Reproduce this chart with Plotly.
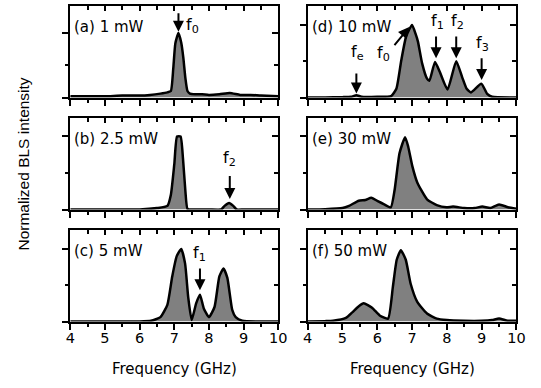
import plotly.graph_objects as go

# ---------------- data ----------------
freq_a = [4.0, 4.5, 5.0, 5.5, 6.0, 6.3, 6.6, 6.8, 6.9, 6.97, 7.03, 7.12, 7.2, 7.26, 7.32, 7.38, 7.45, 7.6, 7.8, 8.0, 8.3, 8.6, 8.9, 9.2, 9.5, 10.0]
int_a = [0.02, 0.02, 0.02, 0.03, 0.03, 0.04, 0.06, 0.08, 0.1, 0.45, 0.84, 1.0, 0.85, 0.62, 0.3, 0.1, 0.06, 0.05, 0.05, 0.04, 0.05, 0.07, 0.04, 0.04, 0.03, 0.02]

freq_b = [4.0, 5.0, 6.0, 6.5, 6.8, 6.9, 7.0, 7.08, 7.18, 7.25, 7.32, 7.38, 7.5, 8.0, 8.35, 8.45, 8.58, 8.7, 8.8, 9.0, 10.0]
int_b = [0.0, 0.0, 0.0, 0.02, 0.05, 0.2, 0.62, 1.0, 1.0, 0.7, 0.25, 0.01, 0.0, 0.0, 0.0, 0.05, 0.09, 0.05, 0.0, 0.0, 0.0]

freq_c = [4.0, 5.0, 6.0, 6.33, 6.6, 6.8, 6.94, 7.07, 7.2, 7.31, 7.4, 7.5, 7.63, 7.74, 7.85, 8.0, 8.16, 8.3, 8.42, 8.53, 8.67, 8.77, 8.96, 10.0]
int_c = [0.0, 0.0, 0.0, 0.01, 0.06, 0.23, 0.62, 0.9, 1.0, 0.8, 0.34, 0.02, 0.25, 0.37, 0.18, 0.06, 0.2, 0.62, 0.73, 0.6, 0.16, 0.06, 0.01, 0.0]

freq_d = [4.0, 4.5, 5.0, 5.25, 5.4, 5.55, 6.0, 6.4, 6.55, 6.69, 6.83, 7.0, 7.1, 7.17, 7.29, 7.43, 7.5, 7.66, 7.8, 8.02, 8.27, 8.44, 8.57, 8.69, 8.99, 9.16, 9.3, 10.0]
int_d = [0.0, 0.0, 0.005, 0.01, 0.03, 0.01, 0.01, 0.02, 0.12, 0.51, 0.84, 1.0, 0.88, 0.77, 0.47, 0.26, 0.23, 0.49, 0.35, 0.11, 0.5, 0.28, 0.12, 0.07, 0.19, 0.05, 0.01, 0.0]

freq_e = [4.0, 4.5, 5.0, 5.19, 5.47, 5.66, 5.83, 6.03, 6.2, 6.39, 6.5, 6.64, 6.8, 6.89, 7.01, 7.15, 7.43, 7.71, 7.99, 8.18, 8.5, 8.8, 9.02, 9.25, 9.5, 9.76, 10.0]
int_e = [0.0, 0.005, 0.02, 0.05, 0.12, 0.13, 0.16, 0.11, 0.07, 0.03, 0.27, 0.77, 0.99, 0.86, 0.59, 0.37, 0.14, 0.06, 0.03, 0.04, 0.02, 0.02, 0.04, 0.02, 0.07, 0.03, 0.01]

freq_f = [4.0, 4.5, 4.73, 5.1, 5.29, 5.47, 5.61, 5.85, 6.08, 6.31, 6.45, 6.56, 6.68, 6.82, 6.96, 7.15, 7.43, 7.71, 8.0, 8.5, 9.0, 9.3, 9.5, 9.75, 10.0]
int_f = [0.0, 0.005, 0.01, 0.05, 0.13, 0.21, 0.25, 0.19, 0.08, 0.04, 0.48, 0.85, 0.98, 0.85, 0.52, 0.27, 0.11, 0.04, 0.02, 0.01, 0.01, 0.02, 0.04, 0.01, 0.01]

panel_labels = ["(a) 1 mW", "(b) 2.5 mW", "(c) 5 mW", "(d) 10 mW", "(e) 30 mW", "(f) 50 mW"]
y_max = [1.42, 1.26, 1.26, 1.26, 1.26, 1.26]
x_ticks = [4, 5, 6, 7, 8, 9, 10]

# peak markers: (panel index, label, label x, label y, arrow tip x, tip y, tail x, tail y, label anchor)
markers = [
    (0, "f<sub>0</sub>", 7.28, 1.12, 7.12, 1.02, 7.12, 1.33, "left"),
    (1, "f<sub>2</sub>", 8.6, 0.70, 8.6, 0.145, 8.6, 0.48, "center"),
    (2, "f<sub>1</sub>", 7.74, 0.93, 7.74, 0.43, 7.74, 0.75, "center"),
    (3, "f<sub>e</sub>", 5.43, 0.62, 5.4, 0.055, 5.4, 0.35, "center"),
    (3, "f<sub>0</sub>", 6.17, 0.6, 6.92, 0.97, 6.46, 0.7, "center"),
    (3, "f<sub>1</sub>", 7.73, 1.05, 7.69, 0.54, 7.69, 0.86, "center"),
    (3, "f<sub>2</sub>", 8.3, 1.05, 8.27, 0.54, 8.27, 0.86, "center"),
    (3, "f<sub>3</sub>", 9.02, 0.75, 9.0, 0.24, 9.0, 0.56, "center"),
]

series = [(freq_a, int_a), (freq_b, int_b), (freq_c, int_c),
          (freq_d, int_d), (freq_e, int_e), (freq_f, int_f)]

# ---------------- layout geometry ----------------
W, H = 541, 388
col_px = [(67, 280.6), (310.7, 525)]
row_px = [(6, 97.5), (117.5, 209.5), (230, 321.5)]
FONT = "DejaVu Sans, sans-serif"
FONT_Y = "Liberation Sans, Arial, sans-serif"
FS = 15
FS_TICK = 14.5

fig = go.Figure()
layout = {}
annotations = []

for i, (fx, fy) in enumerate(series):
    n = i + 1
    col, row = divmod(i, 3)
    x0, x1 = col_px[col]
    y0, y1 = row_px[row]
    xd = [x0 / W, x1 / W]
    yd = [1 - y1 / H, 1 - y0 / H]
    xs = "x" if n == 1 else f"x{n}"
    ys = "y" if n == 1 else f"y{n}"
    fig.add_trace(go.Scatter(
        x=fx, y=fy, xaxis=xs, yaxis=ys, mode="lines",
        line=dict(color="black", width=2.5, shape="spline", smoothing=0.5),
        fill="tozeroy", fillcolor="#808080", hoverinfo="skip", showlegend=False))
    bottom = row == 2
    layout[f"xaxis{n}"] = dict(
        domain=xd, anchor=ys, range=[4, 10], tickvals=x_ticks,
        ticks="outside", ticklen=6, tickwidth=2, tickcolor="black",
        showline=True, linewidth=2, linecolor="black", mirror=True,
        showticklabels=bottom, tickfont=dict(family=FONT, size=FS_TICK, color="black"),
        ticklabelstandoff=-4,
        showgrid=False, zeroline=False,
        minor=dict(dtick=0.5, tick0=0, ticks="outside", ticklen=3, tickwidth=2,
                   tickcolor="black", showgrid=False))
    layout[f"yaxis{n}"] = dict(
        domain=yd, anchor=xs, range=[0, y_max[i]], dtick=1, tick0=0,
        ticks="outside", ticklen=6, tickwidth=2, tickcolor="black",
        showline=True, linewidth=2, linecolor="black", mirror=True,
        showticklabels=False, showgrid=False, zeroline=False,
        minor=dict(dtick=0.5, tick0=0, ticks="outside", ticklen=3, tickwidth=2,
                   tickcolor="black", showgrid=False))
    # overlay axes for inward ticks on top and right
    m = n + 6
    layout[f"xaxis{m}"] = dict(
        overlaying=xs, side="top", anchor=f"y{m}", range=[4, 10], tickvals=x_ticks,
        ticks="inside", ticklen=5, tickwidth=2, tickcolor="black",
        showline=False, showticklabels=False, showgrid=False, zeroline=False,
        minor=dict(dtick=0.5, tick0=0, ticks="inside", ticklen=4, tickwidth=2,
                   tickcolor="black", showgrid=False))
    layout[f"yaxis{m}"] = dict(
        overlaying=ys, side="right", anchor=f"x{m}", range=[0, y_max[i]], dtick=1, tick0=0,
        ticks="inside", ticklen=6, tickwidth=2, tickcolor="black",
        showline=False, showticklabels=False, showgrid=False, zeroline=False,
        minor=dict(dtick=0.5, tick0=0, ticks="inside", ticklen=4, tickwidth=2,
                   tickcolor="black", showgrid=False))
    fig.add_trace(go.Scatter(x=[None], y=[None], xaxis=f"x{m}", yaxis=f"y{m}",
                             mode="lines", showlegend=False, hoverinfo="skip"))
    # panel label
    annotations.append(dict(
        text=panel_labels[i], xref=f"{xs} domain", yref=f"{ys} domain",
        x=0.01, y=1 - 21 / 92, xanchor="left", yanchor="middle", showarrow=False,
        font=dict(family=FONT, size=FS, color="black")))

for (p, txt, lx, ly, tx, ty, ax, ay, anc) in markers:
    n = p + 1
    xs = "x" if n == 1 else f"x{n}"
    ys = "y" if n == 1 else f"y{n}"
    annotations.append(dict(
        x=tx, y=ty, ax=ax, ay=ay, xref=xs, yref=ys, axref=xs, ayref=ys,
        text="", showarrow=True, arrowhead=2, arrowsize=1.1, arrowwidth=2,
        arrowcolor="black", standoff=0, startstandoff=0))
    annotations.append(dict(
        x=lx, y=ly, xref=xs, yref=ys, text=txt, showarrow=False,
        xanchor=anc, yanchor="middle",
        font=dict(family=FONT, size=16, color="black")))

# axis titles
annotations.append(dict(
    text="Normalized BLS intensity", xref="paper", yref="paper",
    x=18 / W, y=1 - 164 / H, textangle=-90, showarrow=False,
    xanchor="center", yanchor="middle", font=dict(family=FONT_Y, size=15.5, color="black")))
for (x0, x1) in col_px:
    annotations.append(dict(
        text="Frequency (GHz)", xref="paper", yref="paper",
        x=(x0 + x1) / 2 / W, y=1 - 369 / H, showarrow=False,
        xanchor="center", yanchor="middle", font=dict(family=FONT, size=FS, color="black")))

fig.update_layout(**layout)
fig.update_layout(
    width=W, height=H, margin=dict(l=0, r=0, t=0, b=0),
    paper_bgcolor="white", plot_bgcolor="white",
    annotations=annotations, showlegend=False,
    font=dict(family=FONT, size=FS, color="black"))

fig.write_html("out.html", config={"displayModeBar": False},
               post_script="document.body.style.margin='0px';")
